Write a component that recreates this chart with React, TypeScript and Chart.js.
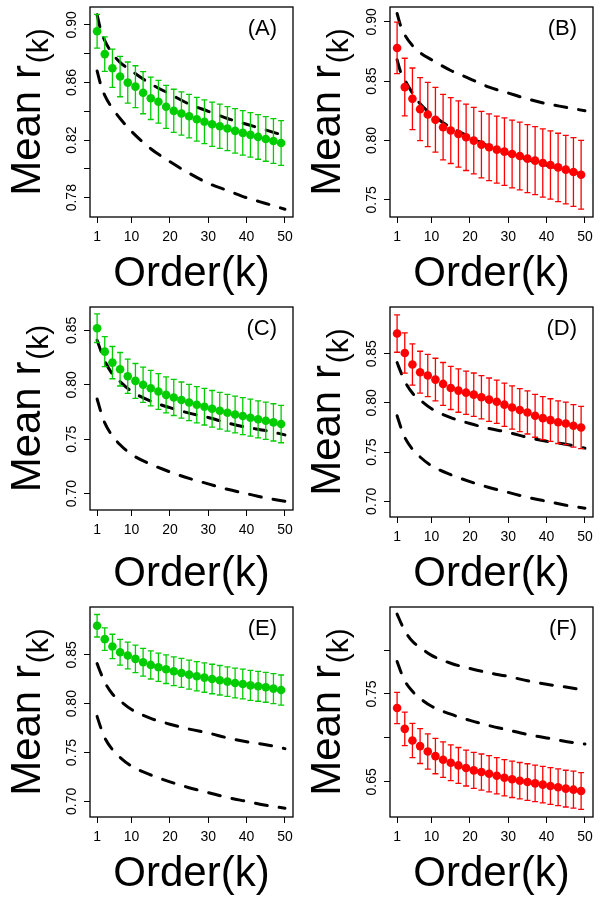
import React, { useEffect, useRef } from "react";
import { Chart, registerables } from "chart.js";

Chart.register(...registerables);

const FONT = '"Liberation Sans", Arial, Helvetica, sans-serif';

// Order k of plotted means (odd orders 1..49)
const orders = [1, 3, 5, 7, 9, 11, 13, 15, 17, 19, 21, 23, 25, 27, 29, 31, 33, 35, 37, 39, 41, 43, 45, 47, 49];

// Orders at which the dashed reference curves were read
const curveK = [1, 2, 3, 5, 7, 10, 15, 20, 25, 30, 35, 40, 45, 50];

// Reference curves, panel A
const upperA = [0.907, 0.896, 0.889, 0.88, 0.874, 0.868, 0.859, 0.852, 0.845, 0.84, 0.835, 0.831, 0.827, 0.823];
const lowerA = [0.868, 0.858, 0.851, 0.842, 0.835, 0.826, 0.814, 0.805, 0.797, 0.79, 0.785, 0.78, 0.776, 0.772];

// Reference curves, panel B (lower one mostly hidden under the points)
const upperB = [0.907, 0.896, 0.889, 0.88, 0.874, 0.868, 0.859, 0.852, 0.845, 0.84, 0.835, 0.831, 0.828, 0.825];
const lowerB = [0.868, 0.857, 0.851, 0.84, 0.831, 0.822, 0.811, 0.803, 0.795, 0.789, 0.784, 0.779, 0.775, 0.771];

// Reference curves, panels C-F
const upperCF = [0.841, 0.831, 0.822, 0.81, 0.803, 0.794, 0.785, 0.779, 0.774, 0.77, 0.765, 0.761, 0.758, 0.754];
const lowerCF = [0.787, 0.775, 0.765, 0.753, 0.745, 0.736, 0.727, 0.72, 0.714, 0.709, 0.704, 0.7, 0.696, 0.693];

// Means and error half-widths
const meanA = [0.8956, 0.8797, 0.8699, 0.8641, 0.8599, 0.8571, 0.8529, 0.849, 0.8466, 0.8431, 0.8403, 0.8385, 0.8366, 0.8345, 0.8327, 0.831, 0.8296, 0.828, 0.8264, 0.825, 0.8236, 0.8222, 0.8208, 0.8194, 0.818];
const errA = [0.0117, 0.012, 0.0133, 0.014, 0.0143, 0.0145, 0.0146, 0.0147, 0.0148, 0.0149, 0.015, 0.015, 0.0151, 0.0152, 0.0152, 0.0153, 0.0153, 0.0153, 0.0154, 0.0154, 0.0154, 0.0155, 0.0155, 0.0155, 0.0155];

const meanB = [0.878, 0.845, 0.8351, 0.8264, 0.8219, 0.8174, 0.8112, 0.8084, 0.8055, 0.8027, 0.7999, 0.7965, 0.7943, 0.7923, 0.7906, 0.7886, 0.7869, 0.7847, 0.783, 0.781, 0.7793, 0.7773, 0.7754, 0.7734, 0.7711];
const errB = [0.0217, 0.0243, 0.026, 0.0265, 0.027, 0.0273, 0.0276, 0.0278, 0.0279, 0.028, 0.028, 0.0281, 0.0282, 0.0283, 0.0284, 0.0285, 0.0285, 0.0286, 0.0287, 0.0287, 0.0288, 0.0288, 0.0289, 0.029, 0.029];

const meanC = [0.852, 0.8305, 0.8204, 0.8143, 0.8079, 0.8036, 0.8, 0.7969, 0.7939, 0.7908, 0.7884, 0.786, 0.7838, 0.7817, 0.7799, 0.778, 0.7762, 0.7744, 0.7728, 0.7713, 0.7698, 0.7683, 0.767, 0.7655, 0.764];
const errC = [0.0131, 0.0137, 0.0148, 0.0154, 0.0158, 0.016, 0.0162, 0.0163, 0.0164, 0.0165, 0.0166, 0.0166, 0.0167, 0.0167, 0.0168, 0.0168, 0.0169, 0.0169, 0.0169, 0.017, 0.017, 0.017, 0.0171, 0.0171, 0.0172];

const meanD = [0.8705, 0.8507, 0.8391, 0.8312, 0.8278, 0.8237, 0.8193, 0.8152, 0.8125, 0.8104, 0.8084, 0.8057, 0.8033, 0.8012, 0.7982, 0.7954, 0.7927, 0.7903, 0.7869, 0.7845, 0.7825, 0.7804, 0.7791, 0.7767, 0.775];
const errD = [0.019, 0.0205, 0.021, 0.0213, 0.0215, 0.0217, 0.0218, 0.0219, 0.022, 0.022, 0.022, 0.022, 0.022, 0.022, 0.022, 0.022, 0.0219, 0.0219, 0.0218, 0.0218, 0.0217, 0.0217, 0.0216, 0.0216, 0.0215];

const meanE = [0.8798, 0.8661, 0.8586, 0.8527, 0.8493, 0.8459, 0.8425, 0.8397, 0.8373, 0.8353, 0.8332, 0.8315, 0.8298, 0.8281, 0.8267, 0.8253, 0.824, 0.8226, 0.8212, 0.8202, 0.8188, 0.8178, 0.8168, 0.8154, 0.814];
const errE = [0.0115, 0.0115, 0.0125, 0.0132, 0.0137, 0.014, 0.0142, 0.0144, 0.0145, 0.0146, 0.0147, 0.0148, 0.0149, 0.015, 0.015, 0.0151, 0.0151, 0.0152, 0.0152, 0.0152, 0.0153, 0.0153, 0.0153, 0.0154, 0.0154];

const meanF = [0.7341, 0.7103, 0.6971, 0.6907, 0.6846, 0.6793, 0.6752, 0.6718, 0.6687, 0.6657, 0.6631, 0.6612, 0.6593, 0.657, 0.6547, 0.6529, 0.6513, 0.6498, 0.6483, 0.6468, 0.6453, 0.6438, 0.6423, 0.6411, 0.6396];
const errF = [0.0178, 0.019, 0.0195, 0.0198, 0.02, 0.0201, 0.0202, 0.0203, 0.0204, 0.0204, 0.0205, 0.0205, 0.0206, 0.0206, 0.0207, 0.0207, 0.0207, 0.0208, 0.0208, 0.0208, 0.0209, 0.0209, 0.0209, 0.021, 0.021];

// Tick values and labels
const xTicks = [1, 10, 20, 30, 40, 50];
const yTicksA = [0.78, 0.8, 0.82, 0.84, 0.86, 0.88, 0.9];
const yLabelsA = [0.78, 0.82, 0.86, 0.9];
const yTicksB = [0.75, 0.8, 0.85, 0.9];
const yTicksCDE = [0.7, 0.75, 0.8, 0.85];
const yTicksF = [0.65, 0.7, 0.75, 0.8];
const yLabelsF = [0.65, 0.75];

const GREEN = "#00CD00";
const RED = "#FF0000";

type Panel = {
  tag: string;
  mean: number[];
  err: number[];
  color: string;
  upper: number[];
  lower: number[];
  yMin: number;
  yMax: number;
  yTicks: number[];
  yLabels: number[];
  plotBottom: number;
  col: number;
  row: number;
};

const panels: Panel[] = [
  { tag: "(A)", mean: meanA, err: errA, color: GREEN, upper: upperA, lower: lowerA, yMin: 0.7666, yMax: 0.9124, yTicks: yTicksA, yLabels: yLabelsA, plotBottom: 217, col: 0, row: 0 },
  { tag: "(B)", mean: meanB, err: errB, color: RED, upper: upperB, lower: lowerB, yMin: 0.7355, yMax: 0.9125, yTicks: yTicksB, yLabels: yTicksB, plotBottom: 217, col: 1, row: 0 },
  { tag: "(C)", mean: meanC, err: errC, color: GREEN, upper: upperCF, lower: lowerCF, yMin: 0.685, yMax: 0.8715, yTicks: yTicksCDE, yLabels: yTicksCDE, plotBottom: 210, col: 0, row: 1 },
  { tag: "(D)", mean: meanD, err: errD, color: RED, upper: upperCF, lower: lowerCF, yMin: 0.684, yMax: 0.8975, yTicks: yTicksCDE, yLabels: yTicksCDE, plotBottom: 217, col: 1, row: 1 },
  { tag: "(E)", mean: meanE, err: errE, color: GREEN, upper: upperCF, lower: lowerCF, yMin: 0.684, yMax: 0.899, yTicks: yTicksCDE, yLabels: yTicksCDE, plotBottom: 217, col: 0, row: 2 },
  { tag: "(F)", mean: meanF, err: errF, color: RED, upper: upperCF, lower: lowerCF, yMin: 0.61, yMax: 0.849, yTicks: yTicksF, yLabels: yLabelsF, plotBottom: 217, col: 1, row: 2 },
];

function PanelChart({ p }: { p: Panel }) {
  const ref = useRef<HTMLCanvasElement | null>(null);

  useEffect(() => {
    if (!ref.current) return;
    const labelSet = new Set(p.yLabels.map((v) => v.toFixed(2)));

    const decor = {
      id: "decor",
      beforeDatasetDraw(chart: any, args: any) {
        if (args.index !== 0) return;
        const { ctx, scales } = chart;
        const xs = scales.x;
        const ys = scales.y;
        ctx.save();
        ctx.strokeStyle = p.color;
        ctx.lineWidth = 1.3;
        ctx.lineCap = "butt";
        orders.forEach((k, i) => {
          const x = xs.getPixelForValue(k);
          const yt = ys.getPixelForValue(p.mean[i] + p.err[i]);
          const yb = ys.getPixelForValue(p.mean[i] - p.err[i]);
          ctx.beginPath();
          ctx.moveTo(x, yt);
          ctx.lineTo(x, yb);
          ctx.moveTo(x - 3, yt);
          ctx.lineTo(x + 3, yt);
          ctx.moveTo(x - 3, yb);
          ctx.lineTo(x + 3, yb);
          ctx.stroke();
        });
        ctx.restore();
      },
      afterDraw(chart: any) {
        const { ctx, chartArea } = chart;
        const { left, right, top, bottom } = chartArea;
        ctx.save();
        // box
        ctx.strokeStyle = "#000";
        ctx.lineWidth = 1.3;
        ctx.strokeRect(left, top, right - left, bottom - top);
        // panel tag
        ctx.fillStyle = "#000";
        ctx.font = `22px ${FONT}`;
        ctx.textAlign = "right";
        ctx.textBaseline = "middle";
        ctx.fillText(p.tag, right - 16, top + 22);
        // y axis title: Mean r_(k)
        const cy = (top + bottom) / 2;
        const mainFont = `42px ${FONT}`;
        const subFont = `30px ${FONT}`;
        ctx.font = mainFont;
        const w1 = ctx.measureText("Mean r").width;
        ctx.font = subFont;
        const w2 = ctx.measureText("(k)").width;
        const gap = 2;
        ctx.translate(40, cy);
        ctx.rotate(-Math.PI / 2);
        ctx.textAlign = "left";
        ctx.textBaseline = "alphabetic";
        const start = -(w1 + gap + w2) / 2;
        ctx.font = mainFont;
        ctx.fillText("Mean r", start, 0);
        ctx.font = subFont;
        ctx.fillText("(k)", start + w1 + gap, 8);
        ctx.restore();
      },
    };

    const gridOpts = {
      display: true,
      drawOnChartArea: false,
      drawTicks: true,
      tickLength: 6,
      color: "#000",
      tickColor: "#000",
      tickWidth: 1,
      lineWidth: 1,
    };

    const chart = new Chart(ref.current, {
      type: "scatter",
      data: {
        datasets: [
          {
            data: orders.map((k, i) => ({ x: k, y: p.mean[i] })),
            showLine: false,
            pointRadius: 4.3,
            pointHoverRadius: 4.3,
            pointBorderWidth: 0,
            pointBackgroundColor: p.color,
            backgroundColor: p.color,
            borderColor: p.color,
          },
          {
            data: curveK.map((k, i) => ({ x: k, y: p.upper[i] })),
            showLine: true,
            pointRadius: 0,
            borderColor: "#000",
            borderWidth: 3,
            borderDash: [12, 12],
            borderCapStyle: "round",
            cubicInterpolationMode: "monotone",
            fill: false,
          },
          {
            data: curveK.map((k, i) => ({ x: k, y: p.lower[i] })),
            showLine: true,
            pointRadius: 0,
            borderColor: "#000",
            borderWidth: 3,
            borderDash: [12, 12],
            borderCapStyle: "round",
            cubicInterpolationMode: "monotone",
            fill: false,
          },
        ],
      } as any,
      options: {
        animation: false,
        responsive: false,
        events: [],
        layout: { padding: { top: 7, right: 7, left: 0, bottom: 0 } },
        plugins: { legend: { display: false }, tooltip: { enabled: false } },
        scales: {
          x: {
            type: "linear",
            min: -0.85,
            max: 52.1,
            afterBuildTicks: (s: any) => {
              s.ticks = xTicks.map((v) => ({ value: v }));
            },
            afterFit: (s: any) => {
              s.height = 300 - p.plotBottom;
              s.paddingLeft = 0;
              s.paddingRight = 0;
            },
            grid: gridOpts,
            border: { display: false },
            ticks: {
              color: "#000",
              font: { family: FONT, size: 14 },
              padding: 6,
              autoSkip: false,
              minRotation: 0,
              maxRotation: 0,
              callback: (v: any) => String(v),
            },
            title: {
              display: true,
              text: "Order(k)",
              color: "#000",
              font: { family: FONT, size: 42, lineHeight: 1 },
              padding: { top: 0, bottom: 5 },
            },
          },
          y: {
            type: "linear",
            min: p.yMin,
            max: p.yMax,
            afterBuildTicks: (s: any) => {
              s.ticks = p.yTicks.map((v) => ({ value: v }));
            },
            afterFit: (s: any) => {
              s.width = 90;
              s.paddingTop = 0;
              s.paddingBottom = 0;
            },
            grid: gridOpts,
            border: { display: false },
            ticks: {
              color: "#000",
              font: { family: FONT, size: 14 },
              padding: -2,
              autoSkip: false,
              minRotation: 90,
              maxRotation: 90,
              crossAlign: "center",
              callback: (v: any) => {
                const s = Number(v).toFixed(2);
                return labelSet.has(s) ? s : "";
              },
            },
          },
        },
      } as any,
      plugins: [decor],
    });

    return () => chart.destroy();
  }, [p]);

  return (
    <canvas
      ref={ref}
      width={300}
      height={300}
      style={{ position: "absolute", left: p.col * 300, top: p.row * 300, width: 300, height: 300 }}
    />
  );
}

export default function App() {
  return (
    <div style={{ position: "absolute", left: 0, top: 0, width: 600, height: 900, background: "#fff" }}>
      {panels.map((p) => (
        <PanelChart key={p.tag} p={p} />
      ))}
    </div>
  );
}
